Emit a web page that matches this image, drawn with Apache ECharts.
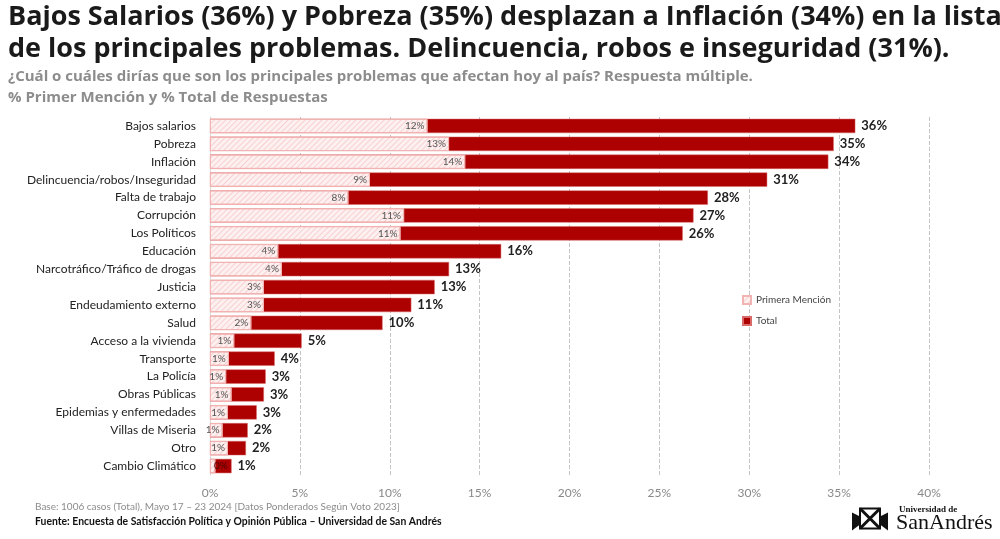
<!DOCTYPE html>
<html>
<head>
<meta charset="utf-8">
<script src="https://cdn.jsdelivr.net/npm/echarts@6/dist/echarts.min.js"></script>
<style>
html,body{margin:0;padding:0;background:#fff;}
#container{width:1000px;height:539px;}
</style>
</head>
<body>
<div id="container"></div>
<script>
var categories = ['Bajos salarios','Pobreza','Inflación','Delincuencia/robos/Inseguridad','Falta de trabajo','Corrupción','Los Políticos','Educación','Narcotráfico/Tráfico de drogas','Justicia','Endeudamiento externo','Salud','Acceso a la vivienda','Transporte','La Policía','Obras Públicas','Epidemias y enfermedades','Villas de Miseria','Otro','Cambio Climático'];
var totalValues = [35.9,34.7,34.4,31.0,27.7,26.9,26.3,16.2,13.3,12.5,11.2,9.6,5.1,3.6,3.1,3.0,2.6,2.1,2.0,1.2];
var primeraValues = [12.1,13.3,14.2,8.9,7.7,10.8,10.6,3.8,4.0,3.0,3.0,2.3,1.35,1.05,0.9,1.2,1.0,0.7,1.0,0.3];
var xTicks = [0,5,10,15,20,25,30,35,40];

var dom = document.getElementById("container");
var myChart = echarts.init(dom);
var font = 'Lato';
var headFont = 'Open Sans';

// bars too small for an inside label get it on the left, over the red bar
var primeraData = primeraValues.map(function (v) {
    if (v < 0.5) {
        return {value:v, label:{position:'insideLeft', distance:4, color:'#4a0000'}};
    }
    return v;
});

var option = {
    backgroundColor:'#fff',
    animation:false,
    title:[
        {
            text:'Bajos Salarios (36%) y Pobreza (35%) desplazan a Inflación (34%) en la lista\nde los principales problemas. Delincuencia, robos e inseguridad (31%).',
            left:8, top:1, padding:0,
            textStyle:{fontFamily:headFont, fontWeight:'bold', fontSize:27, color:'#1a1a1a', lineHeight:32}
        },
        {
            text:'¿Cuál o cuáles dirías que son los principales problemas que afectan hoy al país? Respuesta múltiple.\n% Primer Mención y % Total de Respuestas',
            left:8, top:66, padding:0,
            textStyle:{fontFamily:headFont, fontWeight:'bold', fontSize:15, color:'#8c8c8c', lineHeight:21}
        },
        {
            text:'Base: 1006 casos (Total), Mayo 17 – 23 2024 [Datos Ponderados Según Voto 2023]',
            left:35, top:502, padding:0,
            textStyle:{fontFamily:font, fontWeight:'normal', fontSize:10, color:'#8c8c8c'}
        },
        {
            text:'Fuente: Encuesta de Satisfacción Política y Opinión Pública – Universidad de San Andrés',
            left:35, top:517, padding:0,
            textStyle:{fontFamily:font, fontWeight:'bold', fontSize:10.4, color:'#111'}
        },
        {
            text:'Universidad de',
            left:899, top:505, padding:0,
            textStyle:{fontFamily:'Liberation Serif', fontWeight:'bold', fontSize:9, color:'#111'}
        },
        {
            text:'SanAndrés',
            left:896, top:512, padding:0,
            textStyle:{fontFamily:'Liberation Serif', fontWeight:'normal', fontSize:22, color:'#111'}
        }
    ],
    legend:{
        data:['Primera Mención','Total'],
        orient:'vertical',
        left:737, top:290,
        itemWidth:8, itemHeight:8, itemGap:11,
        icon:'rect',
        textStyle:{fontFamily:font, fontSize:10, color:'#444'}
    },
    grid:{left:210, right:71, top:117, bottom:64, containLabel:false},
    xAxis:{
        type:'value',
        min:0, max:40, interval:5,
        axisLine:{show:false},
        axisTick:{show:false},
        axisLabel:{
            margin:12, color:'#888', fontFamily:font, fontSize:12,
            formatter:function(v){ return xTicks.indexOf(v) >= 0 ? v + '%' : ''; }
        },
        splitLine:{show:true, lineStyle:{type:'dashed', color:'#c4c4c4', width:1}}
    },
    yAxis:{
        type:'category',
        inverse:true,
        data:categories,
        axisLine:{show:true, lineStyle:{color:'#d9d9d9'}},
        axisTick:{show:false},
        axisLabel:{margin:14, color:'#222', fontFamily:font, fontSize:12}
    },
    series:[
        {
            name:'Total',
            type:'bar',
            data:totalValues,
            barWidth:'80%',
            itemStyle:{color:'#ad0000', borderColor:'#d86a6a', borderWidth:0.5},
            label:{
                show:true, position:'right', distance:6,
                fontFamily:font, fontWeight:'bold', fontSize:13, color:'#222',
                formatter:function(p){ return Math.round(p.value) + '%'; }
            },
            z:2
        },
        {
            name:'Primera Mención',
            type:'bar',
            data:primeraData,
            barWidth:'80%',
            barGap:'-100%',
            itemStyle:{
                color:'#fdf0f0', borderColor:'#f2b3b3', borderWidth:1,
                decal:{symbol:'rect', color:'rgba(238,150,150,0.35)', dashArrayX:[1,0], dashArrayY:[1,3], rotation:-Math.PI/4, symbolSize:1}
            },
            label:{
                show:true, position:'insideRight', distance:3,
                fontFamily:font, fontSize:10, color:'#555',
                formatter:function(p){ return Math.round(p.value) + '%'; }
            },
            z:3
        }
    ],
    graphic:[
        {
            type:'group', left:852, top:506,
            children:[
                {type:'rect', shape:{x:8, y:0, width:20, height:20}, style:{fill:'none', stroke:'#111', lineWidth:2}},
                {type:'line', shape:{x1:8, y1:0, x2:28, y2:20}, style:{stroke:'#111', lineWidth:3}},
                {type:'line', shape:{x1:28, y1:0, x2:8, y2:20}, style:{stroke:'#111', lineWidth:3}},
                {type:'polygon', shape:{points:[[0,4],[8,8],[8,16],[0,22]]}, style:{fill:'#111'}},
                {type:'polygon', shape:{points:[[36,4],[28,8],[28,16],[36,22]]}, style:{fill:'#111'}}
            ]
        }
    ]
};
myChart.setOption(option);
</script>
</body>
</html>
